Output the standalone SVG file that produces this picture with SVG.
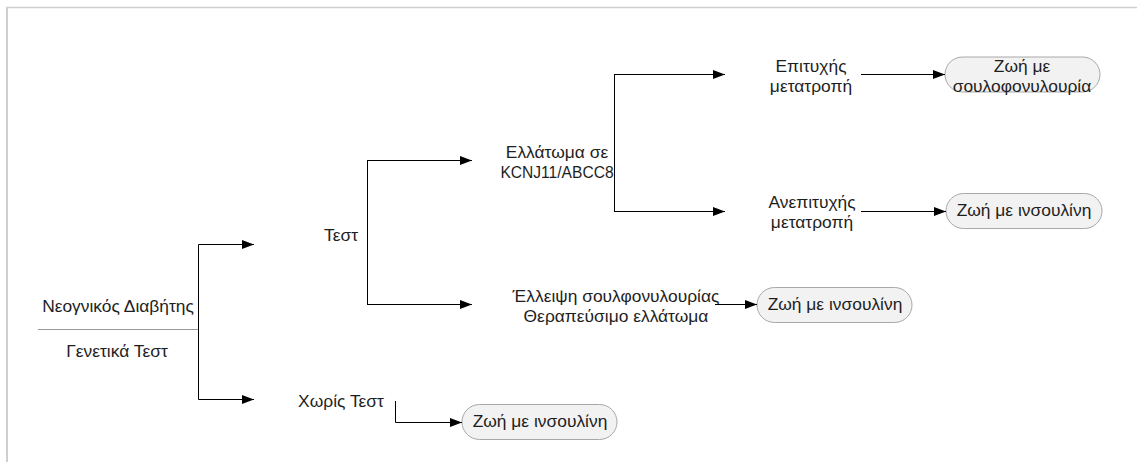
<svg xmlns="http://www.w3.org/2000/svg" width="1137" height="462" viewBox="0 0 1137 462">
<defs>
<marker id="arr" markerWidth="12" markerHeight="9" refX="12" refY="4.5" orient="auto" markerUnits="userSpaceOnUse">
<path d="M0,0 L12,4.5 L0,9 Z" fill="#000"/>
</marker>
<style>
text{font-family:"Liberation Sans",Arial,sans-serif;font-size:15.6px;fill:#1e1e1e;text-anchor:middle;dominant-baseline:central}
.c{fill:none;stroke:#000;stroke-width:1}
.a{marker-end:url(#arr)}
.pill{fill:#f2f2f2;stroke:#a8a8a8;stroke-width:1}
.frame{stroke:#cfcfcf;fill:none}
</style>
</defs>
<rect width="1137" height="462" fill="#fff"/>
<line class="frame" x1="6" y1="7.5" x2="1137" y2="7.5" stroke-width="1.5"/>
<line class="frame" x1="7" y1="7" x2="7" y2="462" stroke-width="2" stroke="#dcdcdc"/>

<g id="root">
<text transform="translate(118,307) scale(1.115,1)">Νεογνικός Διαβήτης</text>
<line x1="38" y1="329.5" x2="198" y2="329.5" stroke="#9a9a9a" stroke-width="1"/>
<text transform="translate(117,352) scale(1.115,1)">Γενετικά Τεστ</text>
</g>
<g id="test"><text transform="translate(341,236) scale(1.115,1)">Τεστ</text></g>
<g id="notest"><text transform="translate(341,402) scale(1.115,1)">Χωρίς Τεστ</text></g>
<g id="defect"><text transform="translate(557,153) scale(1.115,1)">Ελλάτωμα σε</text><text x="557" y="172">KCNJ11/ABCC8</text></g>
<g id="lack"><text transform="translate(616,297) scale(1.115,1)">Έλλειψη σουλφονυλουρίας</text><text transform="translate(616,317) scale(1.115,1)">Θεραπεύσιμο ελλάτωμα</text></g>
<g id="success"><text transform="translate(811,67) scale(1.115,1)">Επιτυχής</text><text transform="translate(811,87) scale(1.115,1)">μετατροπή</text></g>
<g id="fail"><text transform="translate(812,203) scale(1.115,1)">Ανεπιτυχής</text><text transform="translate(812,223) scale(1.115,1)">μετατροπή</text></g>
<g id="pill1"><rect class="pill" x="945" y="57" width="155" height="35" rx="17.5"/><text transform="translate(1022,67) scale(1.115,1)">Ζωή με</text><text transform="translate(1022,87) scale(1.115,1)">σουλοφονυλουρία</text></g>
<g id="pill2"><rect class="pill" x="946" y="193.5" width="156" height="35" rx="17.5"/><text transform="translate(1024,211) scale(1.115,1)">Ζωή με ινσουλίνη</text></g>
<g id="pill3"><rect class="pill" x="757" y="287.5" width="155" height="35" rx="17.5"/><text transform="translate(835,305) scale(1.115,1)">Ζωή με ινσουλίνη</text></g>
<g id="pill4"><rect class="pill" x="462" y="404.5" width="155" height="35" rx="17.5"/><text transform="translate(540,422) scale(1.115,1)">Ζωή με ινσουλίνη</text></g>

<g id="connectors">
<path class="c a" d="M198.5,329 V244.5 H254"/>
<path class="c a" d="M198.5,329 V399.5 H254"/>
<path class="c" d="M367.5,160 V304"/>
<path class="c a" d="M367,160.5 H472"/>
<path class="c a" d="M367,304.5 H472"/>
<path class="c" d="M614.5,74 V211"/>
<path class="c a" d="M614,74.5 H725"/>
<path class="c a" d="M614,211.5 H725"/>
<path class="c a" d="M861,74.5 H945"/>
<path class="c a" d="M861,211.5 H946"/>
<path class="c a" d="M715,304.5 H757"/>
<path class="c a" d="M395.5,401 V422.5 H462"/>
</g>
</svg>
